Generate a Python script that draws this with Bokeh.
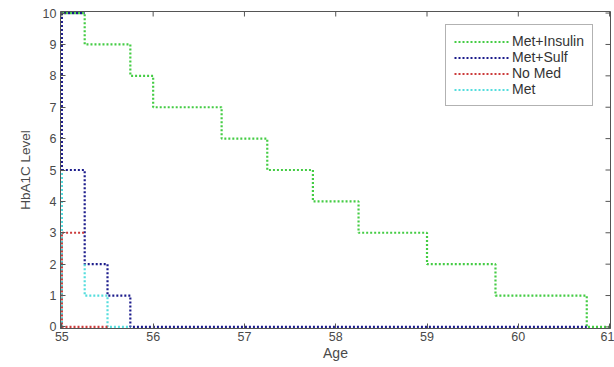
import math
from bokeh.plotting import figure
from bokeh.models import Range1d, Legend, LegendItem, FixedTicker
from bokeh.embed import file_html
from bokeh.resources import INLINE

nan = float("nan")

# Step paths (Age, HbA1C level)
ins_age = [55, 55.25, 55.25, 55.75, 55.75, 56, 56, 56.75, 56.75, 57.25, 57.25,
           57.75, 57.75, 58.25, 58.25, 59, 59, 59.75, 59.75, 60.75, 60.75, 61]
ins_lvl = [10, 10, 9, 9, 8, 8, 7, 7, 6, 6, 5, 5, 4, 4, 3, 3, 2, 2, 1, 1, 0, 0]

sulf_age = [55, 55, 55.25, nan, 55, 55.25, 55.25, 55.5, 55.5, 55.75, 55.75, 60.75]
sulf_lvl = [0, 10, 10, nan, 5, 5, 2, 2, 1, 1, 0, 0]

nomed_age = [55.5, 55, 55, 55.25]
nomed_lvl = [0, 0, 3, 3]

met_age = [55, 55, nan, 55.25, 55.25, 55.5, 55.5, 55.75]
met_lvl = [0, 5, nan, 2, 1, 1, 0, 0]

x_ticks = [55, 56, 57, 58, 59, 60, 61]
y_ticks = [0, 1, 2, 3, 4, 5, 6, 7, 8, 9, 10]
x_min, x_max = 55, 61
y_min, y_max = 0, 10

FONT = "Liberation Sans"
TXT = "#4a4a4a"
FRAME = "#555555"

p = figure(width=614, height=367, output_backend="svg", toolbar_location=None,
           x_range=Range1d(x_min - 0.015, x_max + 0.01),
           y_range=Range1d(y_min - 0.05, y_max + 0.05),
           min_border_left=60, min_border_right=4, min_border_top=11, min_border_bottom=39)
p.grid.visible = False
p.outline_line_color = FRAME
p.outline_line_width = 1
p.background_fill_color = "white"

LW = 2.2
r_ins = p.line(ins_age, ins_lvl, line_color="#44cc44", line_width=LW, line_dash="2 2")
r_sulf = p.line(sulf_age, sulf_lvl, line_color="#1c1c8c", line_width=LW, line_dash="2 2")
r_met = p.line(met_age, met_lvl, line_color="#55dddd", line_width=LW, line_dash="2 2")
r_nomed = p.line(nomed_age, nomed_lvl, line_color="#cc3b3b", line_width=LW, line_dash="2 2")

# inward ticks on the top and right edges of the box (half of each dash is clipped)
p.scatter(x_ticks, [y_max + 0.05] * len(x_ticks), marker="dash", angle=math.pi / 2,
          size=10, line_color=FRAME, line_width=1)
p.scatter([x_max + 0.01] * len(y_ticks), y_ticks, marker="dash", size=10,
          line_color=FRAME, line_width=1)

for ax in (p.xaxis[0], p.yaxis[0]):
    ax.major_tick_in = 5
    ax.major_tick_out = 0
    ax.minor_tick_in = 0
    ax.minor_tick_out = 0
    ax.axis_line_color = FRAME
    ax.major_tick_line_color = FRAME
    ax.major_label_text_font = FONT
    ax.major_label_text_font_size = "12.5px"
    ax.major_label_text_color = TXT
    ax.axis_label_text_font = FONT
    ax.axis_label_text_font_style = "normal"
    ax.axis_label_text_color = TXT

p.xaxis[0].ticker = FixedTicker(ticks=x_ticks)
p.yaxis[0].ticker = FixedTicker(ticks=y_ticks)
p.xaxis[0].axis_label = "Age"
p.yaxis[0].axis_label = "HbA1C Level"
p.xaxis[0].axis_label_text_font_size = "14px"
p.yaxis[0].axis_label_text_font_size = "13.5px"
p.xaxis[0].major_label_standoff = 3
p.xaxis[0].axis_label_standoff = 1
p.yaxis[0].major_label_standoff = 4
p.yaxis[0].axis_label_standoff = 7

legend = Legend(items=[
    LegendItem(label="Met+Insulin", renderers=[r_ins]),
    LegendItem(label="Met+Sulf", renderers=[r_sulf]),
    LegendItem(label="No Med", renderers=[r_nomed]),
    LegendItem(label="Met", renderers=[r_met]),
], location=(385, 222))
legend.margin = 0
legend.padding = 8
legend.spacing = 0
legend.label_height = 15
legend.glyph_height = 15
legend.glyph_width = 55
legend.label_standoff = 3
legend.label_text_font = FONT
legend.label_text_font_size = "14px"
legend.label_text_color = "#333333"
legend.border_line_color = "#666666"
legend.border_line_width = 1
legend.background_fill_alpha = 1
p.add_layout(legend, "center")

open("out.html", "w").write(file_html(p, INLINE))
